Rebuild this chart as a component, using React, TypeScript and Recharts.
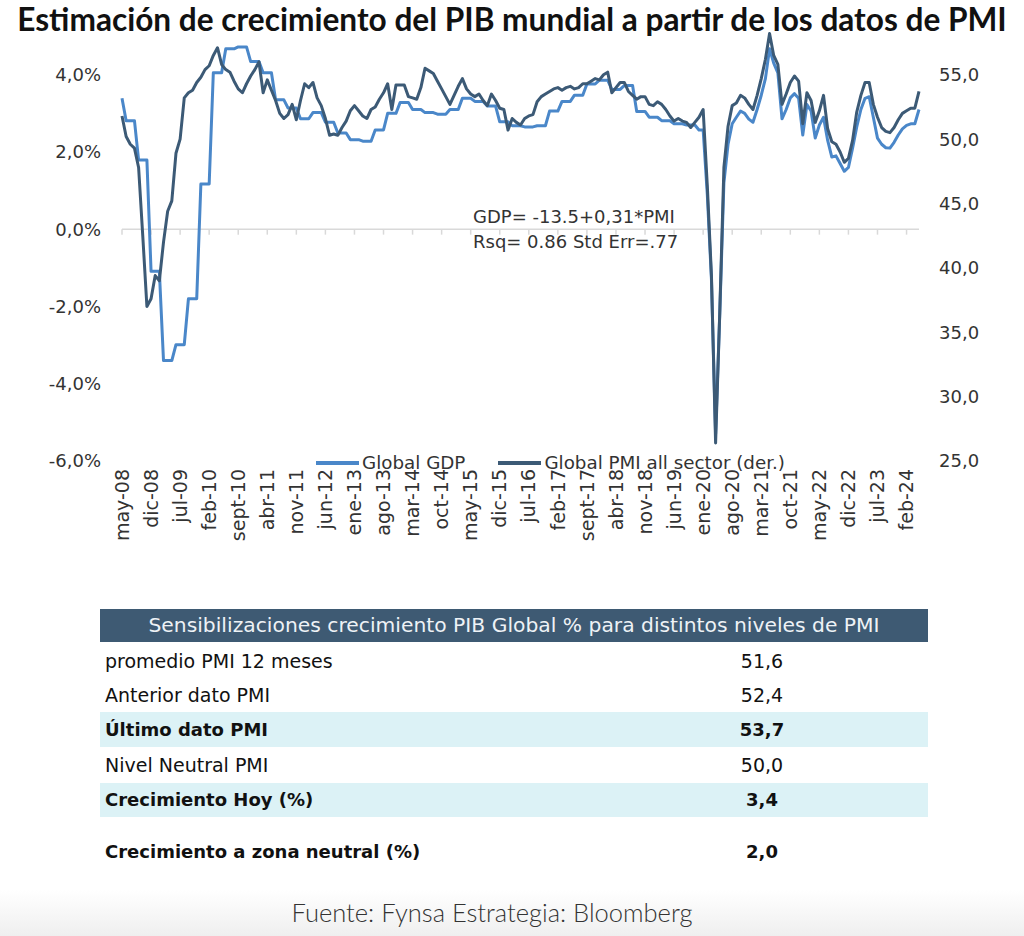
import { LineChart, Line, XAxis, YAxis, ReferenceLine, Legend } from "recharts";

// Monthly series, may-08 .. may-24 (one row = 12 months starting in May)
const PMI = [
  51.8, 50.2, 49.6, 49.3, 47.8, 42.5, 37.0, 37.6, 39.4, 39.0, 42.0, 44.4,
  45.2, 48.9, 50.0, 53.2, 53.6, 53.8, 54.4, 54.8, 55.4, 55.7, 56.5, 57.1,
  55.8, 55.4, 55.2, 54.5, 53.9, 53.6, 54.3, 54.9, 55.4, 56.0, 53.6, 54.6,
  53.8, 53.0, 52.0, 51.6, 51.9, 52.7, 51.5, 53.0, 54.3, 54.0, 54.4, 53.2,
  52.6, 51.6, 50.3, 50.4, 50.3, 50.9, 51.4, 52.2, 52.6, 52.2, 51.8, 51.6,
  52.3, 52.5, 53.1, 53.6, 54.3, 52.3, 54.2, 54.2, 54.2, 53.3, 53.2, 53.1,
  54.0, 55.5, 55.3, 55.1, 54.5, 53.9, 53.3, 52.7, 53.4, 54.1, 54.7, 53.9,
  53.5, 53.3, 53.5, 53.0, 52.6, 53.5, 53.0, 52.4, 52.3, 50.7, 51.6, 51.3,
  51.1, 51.6, 51.8, 51.9, 52.9, 53.3, 53.5, 53.7, 53.9, 54.0, 53.8, 54.0,
  54.1, 53.9, 54.0, 54.3, 54.3, 54.5, 54.7, 54.6, 55.0, 55.2, 53.6, 54.0,
  54.4, 54.4, 53.7, 53.4, 53.1, 53.3, 53.3, 52.7, 52.6, 52.9, 52.7, 52.3,
  51.8, 51.4, 51.6, 51.4, 51.3, 50.9, 51.3, 51.7, 52.3, 46.4, 39.4, 26.4,
  36.5, 47.8, 51.0, 52.6, 52.8, 53.4, 53.2, 52.7, 52.3, 53.4, 54.7, 56.2,
  58.2, 56.5, 55.8, 52.7, 53.5, 54.4, 54.9, 54.5, 51.2, 53.6, 53.0, 51.3,
  52.2, 53.4, 50.8, 49.8, 49.6, 49.0, 48.2, 48.5, 49.9, 52.1, 53.4, 54.4,
  54.4, 52.7, 51.7, 50.9, 50.6, 50.5, 50.9, 51.5, 52.0, 52.2, 52.4, 52.4,
  53.7,
];

const GDP = [
  3.39, 2.81, 2.81, 2.81, 1.79, 1.79, 1.79, -1.09, -1.09, -1.09, -3.4, -3.4,
  -3.4, -2.99, -2.99, -2.99, -1.8, -1.8, -1.8, 1.17, 1.17, 1.17, 4.05, 4.05,
  4.05, 4.67, 4.67, 4.67, 4.72, 4.72, 4.72, 4.34, 4.34, 4.34, 4.05, 4.05,
  4.05, 3.35, 3.35, 3.35, 3.14, 3.14, 3.14, 2.86, 2.86, 2.86, 3.02, 3.02,
  3.02, 2.77, 2.77, 2.77, 2.49, 2.49, 2.49, 2.32, 2.32, 2.32, 2.28, 2.28,
  2.28, 2.57, 2.57, 2.57, 3.0, 3.0, 3.0, 3.28, 3.28, 3.28, 3.1, 3.1,
  3.1, 3.02, 3.02, 3.02, 2.98, 2.98, 2.98, 3.1, 3.1, 3.1, 3.39, 3.39,
  3.39, 3.31, 3.31, 3.31, 3.19, 3.19, 3.19, 2.78, 2.78, 2.78, 2.68, 2.68,
  2.68, 2.65, 2.65, 2.65, 2.68, 2.68, 2.68, 3.06, 3.06, 3.06, 3.31, 3.31,
  3.31, 3.47, 3.47, 3.47, 3.76, 3.76, 3.76, 3.86, 3.86, 3.86, 3.62, 3.62,
  3.62, 3.72, 3.72, 3.72, 3.05, 3.05, 3.05, 2.9, 2.9, 2.9, 2.81, 2.81,
  2.81, 2.73, 2.73, 2.73, 2.7, 2.7, 2.7, 2.57, 2.57, 0.9, -1.3, -5.3,
  -2.2, 1.2, 2.2, 2.73, 2.9, 3.06, 3.0, 2.85, 2.77, 3.1, 3.47, 3.9,
  4.67, 4.3, 4.05, 2.86, 3.1, 3.4, 3.51, 3.39, 2.44, 3.23, 3.06, 2.36,
  2.7, 2.9, 2.3, 1.87, 1.9, 1.7, 1.5, 1.6, 2.1, 2.65, 3.1, 3.39,
  3.43, 2.9, 2.36, 2.2, 2.11, 2.1, 2.25, 2.44, 2.6, 2.69, 2.73, 2.73,
  3.1,
];

const MONTHS_ES = ["ene", "feb", "mar", "abr", "may", "jun", "jul", "ago", "sept", "oct", "nov", "dic"];

const TICK_LABELS = [
  "may-08", "dic-08", "jul-09", "feb-10", "sept-10", "abr-11", "nov-11", "jun-12",
  "ene-13", "ago-13", "mar-14", "oct-14", "may-15", "dic-15", "jul-16", "feb-17",
  "sept-17", "abr-18", "nov-18", "jun-19", "ene-20", "ago-20", "mar-21", "oct-21",
  "may-22", "dic-22", "jul-23", "feb-24",
];

const LEFT_TICKS = [-6, -4, -2, 0, 2, 4];
const RIGHT_TICKS = [25, 30, 35, 40, 45, 50, 55];

const TABLE_TITLE = "Sensibilizaciones crecimiento PIB Global % para distintos niveles de PMI";
const TABLE_LABELS = [
  "promedio PMI 12 meses",
  "Anterior dato PMI",
  "Último dato PMI",
  "Nivel Neutral PMI",
  "Crecimiento Hoy (%)",
  "Crecimiento a zona neutral (%)",
];
const TABLE_VALUES = ["51,6", "52,4", "53,7", "50,0", "3,4", "2,0"];

const GDP_COLOR = "#4a87c9";
const PMI_COLOR = "#3c5a76";
const FONT = "'DejaVu Sans', sans-serif";

const monthLabel = (i: number) => {
  const k = 4 + i;
  return `${MONTHS_ES[k % 12]}-${String(2008 + Math.floor(k / 12)).slice(2)}`;
};

const data = PMI.map((p, i) => ({ month: monthLabel(i), pmi: p, gdp: GDP[i] }));

const pct = (v: number) => v.toFixed(1).replace(".", ",") + "%";
const dec = (v: number) => v.toFixed(1).replace(".", ",");

function RotatedTick({ x, y, payload }: any) {
  return (
    <text
      x={x}
      y={y}
      transform={`rotate(-90 ${x} ${y})`}
      textAnchor="end"
      dy="0.35em"
      fontSize={19}
      fontFamily={FONT}
      fill="#333"
    >
      {payload.value}
    </text>
  );
}

function LegendBox() {
  const item = (color: string, label: string, gap: number) => (
    <div style={{ display: "flex", alignItems: "center", marginRight: gap }}>
      <div style={{ width: 43, height: 4, background: color, marginRight: 3 }} />
      <span style={{ fontFamily: FONT, fontSize: 18.3, color: "#333" }}>{label}</span>
    </div>
  );
  return (
    <div style={{ display: "flex", alignItems: "center", whiteSpace: "nowrap" }}>
      {item(GDP_COLOR, "Global GDP", 33)}
      {item(PMI_COLOR, "Global PMI all sector (der.)", 0)}
    </div>
  );
}

export default function App() {
  const rowTops = [645, 678, 712, 747, 783, 835];
  const rowHeights = [33, 34, 35, 36, 34, 34];
  const shaded = [2, 4];
  const bold = [2, 4, 5];
  return (
    <div
      style={{
        position: "absolute",
        left: 0,
        top: 0,
        width: 1024,
        height: 936,
        background: "linear-gradient(to bottom, #ffffff 0px, #ffffff 890px, #efefef 936px)",
        overflow: "hidden",
      }}
    >
      <div style={{ position: "absolute", left: 0, top: 0 }}>
        <LineChart width={1024} height={567} data={data} margin={{ top: 28, right: 0, bottom: 0, left: 0 }}>
          <XAxis
            dataKey="month"
            ticks={TICK_LABELS}
            interval={0}
            tickLine={false}
            axisLine={false}
            height={85}
            tick={<RotatedTick />}
          />
          <YAxis
            yAxisId="left"
            orientation="left"
            width={122}
            domain={[-6, 5.21]}
            ticks={LEFT_TICKS}
            allowDataOverflow
            tickFormatter={pct}
            axisLine={false}
            tickLine={false}
            tickMargin={15}
            tick={{ fontSize: 18, fontFamily: FONT, fill: "#333" }}
          />
          <YAxis
            yAxisId="right"
            orientation="right"
            width={105}
            domain={[25, 58.63]}
            ticks={RIGHT_TICKS}
            allowDataOverflow
            tickFormatter={dec}
            axisLine={false}
            tickLine={false}
            tickMargin={14}
            tick={{ fontSize: 18, fontFamily: FONT, fill: "#333" }}
          />
          <ReferenceLine yAxisId="left" y={0} stroke="#d9d9d9" strokeWidth={1.5} />
          {TICK_LABELS.map((t) => (
            <ReferenceLine
              key={t}
              yAxisId="left"
              segment={[{ x: t, y: 0 }, { x: t, y: -0.14 }]}
              stroke="#d9d9d9"
              strokeWidth={1.5}
            />
          ))}
          <Line
            yAxisId="left"
            dataKey="gdp"
            name="Global GDP"
            stroke={GDP_COLOR}
            strokeWidth={3}
            dot={false}
            strokeLinejoin="round"
            isAnimationActive={false}
          />
          <Line
            yAxisId="right"
            dataKey="pmi"
            name="Global PMI all sector (der.)"
            stroke={PMI_COLOR}
            strokeWidth={3}
            dot={false}
            strokeLinejoin="round"
            isAnimationActive={false}
          />
          <Legend content={<LegendBox />} wrapperStyle={{ position: "absolute", top: 452, left: 316, width: 560 }} />
        </LineChart>
      </div>

      <div
        style={{
          position: "absolute",
          left: 0,
          top: 0,
          width: 1024,
          textAlign: "center",
          fontFamily: "Lato, sans-serif",
          fontWeight: 700,
          fontSize: 31.6,
          lineHeight: "38px",
          color: "#111",
          whiteSpace: "nowrap",
        }}
      >
        Estimación de crecimiento del PIB mundial a partir de los datos de PMI
      </div>

      <div style={{ position: "absolute", left: 473, top: 204, fontFamily: FONT, fontSize: 18, color: "#333", lineHeight: "25px" }}>
        <div>GDP= -13.5+0,31*PMI</div>
        <div>Rsq= 0.86 Std Err=.77</div>
      </div>

      <div
        style={{
          position: "absolute",
          left: 100,
          top: 609,
          width: 828,
          height: 33,
          background: "#3e5a73",
          color: "#eef2f6",
          fontFamily: FONT,
          fontSize: 20.3,
          lineHeight: "33px",
          textAlign: "center",
          whiteSpace: "nowrap",
        }}
      >
        {TABLE_TITLE}
      </div>
      {TABLE_LABELS.map((label, i) => (
        <div
          key={label}
          style={{
            position: "absolute",
            left: 100,
            top: rowTops[i],
            width: 828,
            height: rowHeights[i],
            background: shaded.includes(i) ? "#dcf2f6" : "transparent",
            fontFamily: FONT,
            fontSize: bold.includes(i) ? 18 : 19,
            fontWeight: bold.includes(i) ? 700 : 400,
            color: "#111",
            lineHeight: `${rowHeights[i]}px`,
            whiteSpace: "nowrap",
          }}
        >
          <span style={{ position: "absolute", left: 5 }}>{label}</span>
          <span style={{ position: "absolute", left: 600, width: 124, textAlign: "center" }}>{TABLE_VALUES[i]}</span>
        </div>
      ))}

      <div
        style={{
          position: "absolute",
          left: 0,
          top: 896,
          width: 984,
          textAlign: "center",
          fontFamily: "Lato, sans-serif",
          fontWeight: 300,
          fontSize: 25.5,
          color: "#333",
          lineHeight: "32px",
          whiteSpace: "nowrap",
        }}
      >
        Fuente: Fynsa Estrategia: Bloomberg
      </div>
    </div>
  );
}
